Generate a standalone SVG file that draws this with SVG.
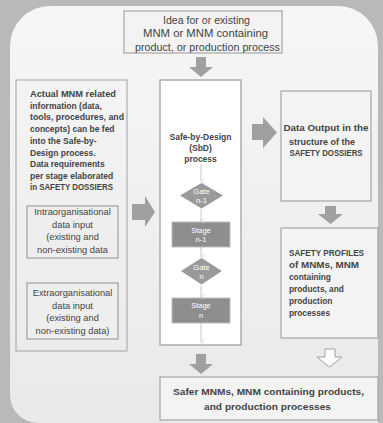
<svg xmlns="http://www.w3.org/2000/svg" width="383" height="423" viewBox="0 0 383 423">
<defs>
<linearGradient id="pg" x1="0" y1="0" x2="0" y2="1">
<stop offset="0" stop-color="#f6f6f6"/>
<stop offset="1" stop-color="#e9e9e9"/>
</linearGradient>
<marker id="v" viewBox="0 0 10 10" refX="5" refY="9" markerWidth="6" markerHeight="6" orient="auto-start-reverse" markerUnits="userSpaceOnUse">
<path d="M0,3 L5,9 L10,3" fill="none" stroke="#c8c8c8" stroke-width="1.2"/>
</marker>
</defs>
<style>
.box{fill:#f3f3f3;stroke:#a6a6a6;stroke-width:1.2}
.inbox{fill:#eeeeee;stroke:#a0a0a0;stroke-width:1.2}
.t{font-family:"Liberation Sans",Arial,sans-serif;fill:#444444}
.b{font-weight:bold}
.w{fill:#ffffff;font-family:"Liberation Sans",Arial,sans-serif;font-size:7.5px;text-anchor:middle}
.fat{fill:#a0a0a0}
.thin{stroke:#c8c8c8;stroke-width:1;fill:none;marker-end:url(#v)}
.gate{fill:#9a9a9a}
.stage{fill:#8e8e8e;stroke:#bdbdbd;stroke-width:1}
</style>
<rect width="383" height="423" fill="#b9b9b9"/>
<path d="M50,6 H338 A40,40 0 0 1 378,46 V423 H38 A28,28 0 0 1 10,395 V46 A40,40 0 0 1 50,6 Z" fill="url(#pg)"/>

<g id="idea">
<rect class="box" x="124" y="11" width="158" height="42"/>
<text class="t" font-size="10.3" text-anchor="middle"><tspan x="206.5" y="23.5" textLength="87" lengthAdjust="spacingAndGlyphs">Idea for or existing</tspan><tspan x="205.5" y="37" textLength="125" lengthAdjust="spacingAndGlyphs">MNM or MNM containing</tspan><tspan x="207.5" y="50.5" textLength="145" lengthAdjust="spacingAndGlyphs">product, or production process</tspan></text>
</g>

<g id="actual-info">
<rect x="16" y="80" width="111" height="271" fill="none" stroke="#b0b0b0" stroke-width="1.2"/>
<text class="t b" font-size="8.5"><tspan x="30" y="97" textLength="86" lengthAdjust="spacingAndGlyphs">Actual MNM related</tspan><tspan x="30" y="108.5">information (data,</tspan><tspan x="30" y="120" textLength="94" lengthAdjust="spacingAndGlyphs">tools, procedures, and</tspan><tspan x="30" y="131.5">concepts) can be fed</tspan><tspan x="30" y="143.5">into the Safe-by-</tspan><tspan x="30" y="155.5">Design process.</tspan><tspan x="30" y="167">Data requirements</tspan><tspan x="30" y="178.5">per stage elaborated</tspan><tspan x="30" y="190" textLength="83" lengthAdjust="spacingAndGlyphs">in SAFETY DOSSIERS</tspan></text>
</g>

<g id="intra">
<rect class="inbox" x="27" y="206" width="91" height="52"/>
<text class="t" font-size="9.3" text-anchor="middle"><tspan x="72.5" y="214.5">Intraorganisational</tspan><tspan x="72.5" y="227.5">data input</tspan><tspan x="72.5" y="240">(existing and</tspan><tspan x="72.5" y="252.5">non-existing data</tspan></text>
</g>

<g id="extra">
<rect class="inbox" x="27" y="283" width="91" height="56"/>
<text class="t" font-size="9.3" text-anchor="middle"><tspan x="72.5" y="296">Extraorganisational</tspan><tspan x="72.5" y="308.5">data input</tspan><tspan x="72.5" y="321">(existing and</tspan><tspan x="72.5" y="333.5">non-existing data)</tspan></text>
</g>

<g id="sbd">
<rect x="160" y="80" width="81" height="265" fill="#ffffff" stroke="#9a9a9a" stroke-width="1.2"/>
<text class="t b" font-size="8.5" text-anchor="middle"><tspan x="200.5" y="140">Safe-by-Design</tspan><tspan x="200.5" y="150.5">(SbD)</tspan><tspan x="200.5" y="162">process</tspan></text>
</g>

<g id="gate-n-1">
<polygon class="gate" points="201.5,183 223,195.5 201.5,208.5 180,195.5"/>
<text class="w"><tspan x="201.5" y="194">Gate</tspan><tspan x="201.5" y="203">n-1</tspan></text>
</g>
<g id="stage-n-1">
<rect class="stage" x="172" y="222" width="58" height="25"/>
<text class="w"><tspan x="201" y="232.5">Stage</tspan><tspan x="201" y="241.5">n-1</tspan></text>
</g>
<g id="gate-n">
<polygon class="gate" points="201.5,258 222,271 201.5,284.5 181,271"/>
<text class="w"><tspan x="201.5" y="269.5">Gate</tspan><tspan x="201.5" y="278.5">n</tspan></text>
</g>
<g id="stage-n">
<rect class="stage" x="172" y="298" width="58" height="25"/>
<text class="w"><tspan x="201" y="308">Stage</tspan><tspan x="201" y="318">n</tspan></text>
</g>

<g id="data-output">
<rect class="box" x="281" y="91" width="90" height="110"/>
<text class="t b" font-size="8.3"><tspan x="283.5" y="131" textLength="85" lengthAdjust="spacingAndGlyphs">Data Output in the</tspan><tspan x="289" y="145" textLength="66" lengthAdjust="spacingAndGlyphs">structure of the</tspan><tspan x="289.5" y="156" textLength="73" lengthAdjust="spacingAndGlyphs">SAFETY DOSSIERS</tspan></text>
</g>

<g id="safety-profiles">
<rect class="box" x="281" y="228" width="97" height="110"/>
<text class="t b" font-size="8.3"><tspan x="289" y="256" textLength="75" lengthAdjust="spacingAndGlyphs">SAFETY PROFILES</tspan><tspan x="289" y="268" textLength="70" lengthAdjust="spacingAndGlyphs">of MNMs, MNM</tspan><tspan x="289" y="280">containing</tspan><tspan x="289" y="291.5">products, and</tspan><tspan x="289" y="304">production</tspan><tspan x="289" y="316">processes</tspan></text>
</g>

<g id="safer">
<rect class="box" x="160" y="377" width="218" height="43"/>
<text class="t b" font-size="9.6" text-anchor="middle"><tspan x="268.5" y="394.5" textLength="191" lengthAdjust="spacingAndGlyphs">Safer MNMs, MNM containing products,</tspan><tspan x="267.5" y="409.5" textLength="127" lengthAdjust="spacingAndGlyphs">and production processes</tspan></text>
</g>

<g id="connectors">
<polygon class="fat" points="196,57 206,57 206,67 213,67 201,77 189,67 196,67"/>
<polygon class="fat" points="132,204 145,204 145,196 155,212 145,227 145,220 132,220"/>
<polygon class="fat" points="252,124 263,124 263,117 277,132.5 263,148 263,140 252,140"/>
<polygon class="fat" points="325,206 336,206 336,214 343,214 330.5,224 318,214 325,214"/>
<polygon class="fat" points="196,354 206,354 206,364 213,364 201,374 189,364 196,364"/>
<polygon points="325,349 335,349 335,357 342,357 329.5,367 317,357 325,357" fill="#ffffff" stroke="#a0a0a0" stroke-width="1"/>
<line class="thin" x1="201" y1="164" x2="201" y2="181"/>
<line class="thin" x1="201" y1="209" x2="201" y2="221"/>
<line class="thin" x1="201" y1="247" x2="201" y2="257"/>
<line class="thin" x1="201" y1="285" x2="201" y2="297"/>
<line class="thin" x1="201" y1="323" x2="201" y2="342"/>
</g>
</svg>
